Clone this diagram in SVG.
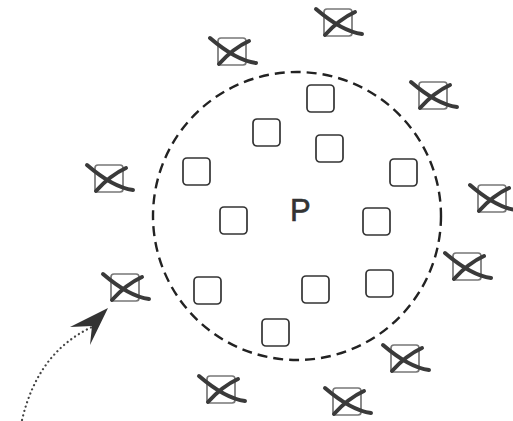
<svg xmlns="http://www.w3.org/2000/svg" xmlns:xlink="http://www.w3.org/1999/xlink" width="513" height="421" viewBox="0 0 513 421">
<style>
.sq{fill:none;stroke:#333;stroke-width:1.7}
.xsq{fill:none;stroke:#777;stroke-width:1.7}
.xs{fill:none;stroke:#3a3a3a;stroke-width:4;stroke-linecap:round}
.ring{fill:none;stroke:#222;stroke-width:2.4;stroke-dasharray:10 6}
.lbl{font-family:"Liberation Sans",Arial,sans-serif;font-size:31px;fill:#333;stroke:#333;stroke-width:0.6}
</style>
<defs>
<g id="xbox">
<rect class="xsq" x="-14" y="-13" width="28" height="27" rx="3"/>
<path class="xs" d="M-22,-13 C-8,-1 8,10 24,12"/>
<path class="xs" d="M-13,13 C-4,3 6,-5 17,-10"/>
</g>
</defs>
<rect width="513" height="421" fill="#fff"/>
<g id="region"><ellipse class="ring" cx="297" cy="216" rx="144" ry="144"/></g>
<g id="label-P"><text class="lbl" x="290" y="221">P</text></g>
<g id="inside">
<rect id="n1" class="sq" x="307" y="85" width="27" height="27" rx="4"/>
<rect id="n2" class="sq" x="253" y="119" width="27" height="27" rx="4"/>
<rect id="n3" class="sq" x="316" y="135" width="27" height="27" rx="4"/>
<rect id="n4" class="sq" x="183" y="158" width="27" height="27" rx="4"/>
<rect id="n5" class="sq" x="390" y="159" width="27" height="27" rx="4"/>
<rect id="n6" class="sq" x="220" y="207" width="27" height="27" rx="4"/>
<rect id="n7" class="sq" x="363" y="208" width="27" height="27" rx="4"/>
<rect id="n8" class="sq" x="194" y="277" width="27" height="27" rx="4"/>
<rect id="n9" class="sq" x="302" y="276" width="27" height="27" rx="4"/>
<rect id="n10" class="sq" x="366" y="270" width="27" height="27" rx="4"/>
<rect id="n11" class="sq" x="262" y="319" width="27" height="27" rx="4"/>
</g>
<g id="outside">
<g id="x1"><use xlink:href="#xbox" x="232" y="51"/></g>
<g id="x2"><use xlink:href="#xbox" x="338" y="22"/></g>
<g id="x3"><use xlink:href="#xbox" x="433" y="95"/></g>
<g id="x4"><use xlink:href="#xbox" x="109" y="178"/></g>
<g id="x5"><use xlink:href="#xbox" x="492" y="198"/></g>
<g id="x6"><use xlink:href="#xbox" x="467" y="266"/></g>
<g id="x7"><use xlink:href="#xbox" x="125" y="287"/></g>
<g id="x8"><use xlink:href="#xbox" x="405" y="358"/></g>
<g id="x9"><use xlink:href="#xbox" x="221" y="389"/></g>
<g id="x10"><use xlink:href="#xbox" x="347" y="401"/></g>
</g>
<g id="connectors">
<path d="M22,420 Q38,352 92,327" fill="none" stroke="#444" stroke-width="2.2" stroke-dasharray="0.1 4.5" stroke-linecap="round"/>
<path d="M108,308 L70,327 L92,326 L90,345 Z" fill="#333"/>
</g>
</svg>
